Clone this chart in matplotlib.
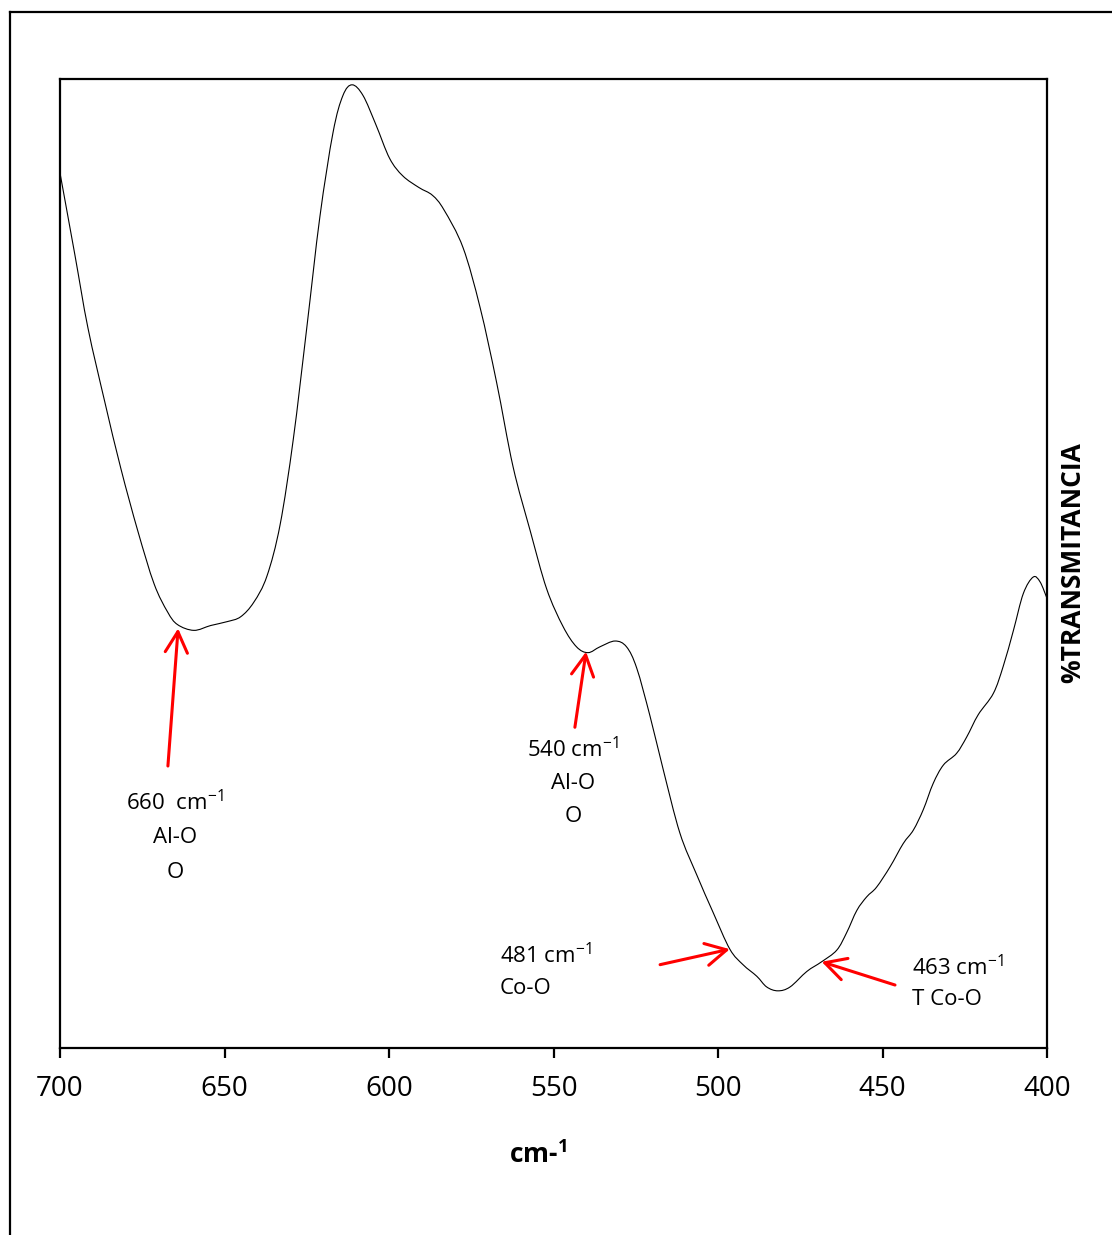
import matplotlib
matplotlib.use("Agg")
import matplotlib.pyplot as plt
from matplotlib.lines import Line2D
from matplotlib.path import Path
from matplotlib.patches import PathPatch

plt.rcParams['font.family'] = ['Open Sans', 'DejaVu Sans']
plt.rcParams['mathtext.fontset'] = 'custom'
plt.rcParams['mathtext.rm'] = 'Open Sans'
plt.rcParams['mathtext.it'] = 'Open Sans:italic'
plt.rcParams['mathtext.bf'] = 'Open Sans:bold'

# FTIR spectrum (wavenumber in cm-1, transmittance in arbitrary %)
wavenumber = [700.0, 695.5, 691.5, 686.4, 681.5, 676.3, 671.4, 667.3, 664.3, 659.3,
              654.2, 649.2, 645.1, 641.1, 637.1, 633.1, 629.1, 625.0, 621.0, 617.0,
              614.0, 611.2, 607.9, 604.0, 599.8, 595.8, 590.9, 586.8, 583.3,
              577.5, 572.3, 567.3, 562.3, 557.1, 552.1, 547.1, 543.0, 539.5, 535.9,
              531.3, 527.8, 524.7, 520.7, 516.7, 511.6, 506.5, 501.5, 496.4, 492.4,
              488.2, 485.2, 481.8, 478.1, 473.0, 468.5, 463.9, 460.9, 457.8, 454.8,
              451.8, 447.7, 443.7, 440.6, 437.6, 434.6, 431.5, 427.5, 424.4, 420.9,
              416.3, 413.3, 410.2, 407.2, 404.2, 402.1, 400.0]
transmittance = [90.3, 81.9, 74.3, 66.7, 59.8, 53.3, 47.9, 45.0, 43.7, 43.1,
                 43.6, 44.0, 44.5, 46.0, 48.7, 54.0, 62.8, 74.3, 85.8, 94.5,
                 98.3, 99.4, 98.3, 95.3, 91.8, 90.0, 88.8, 88.0, 86.5,
                 82.6, 76.4, 68.7, 60.0, 53.4, 47.4, 43.5, 41.4, 40.8, 41.4,
                 42.0, 41.4, 39.2, 34.3, 28.8, 22.2, 17.9, 14.0, 10.2, 8.6,
                 7.4, 6.3, 5.9, 6.3, 7.9, 8.9, 10.1, 11.9, 14.2, 15.6,
                 16.6, 18.7, 21.1, 22.5, 24.6, 27.3, 29.2, 30.4, 32.1, 34.4,
                 36.6, 39.4, 43.1, 46.9, 48.6, 48.1, 46.4]

x_ticks = [700, 650, 600, 550, 500, 450, 400]

# Band assignments
band_labels = [
    [r"660  cm$^{-1}$", "Al-O", "O"],
    [r"540 cm$^{-1}$", "Al-O", "O"],
    [r"481 cm$^{-1}$", "Co-O"],
    [r"463 cm$^{-1}$", "T Co-O"],
]
arrow_tails = [(667.2, 29.1), (543.5, 33.1), (517.6, 8.6), (446.2, 6.5)]
arrow_tips = [(664.1, 43.3), (540.1, 40.9), (496.4, 10.2), (468.5, 8.9)]


def smooth_path(xs, ys):
    """Smoothed-line path through every point (Catmull-Rom as cubic Beziers)."""
    pts = list(zip(xs, ys))
    n = len(pts)
    verts = [pts[0]]
    codes = [Path.MOVETO]
    for i in range(n - 1):
        p0 = pts[i - 1] if i > 0 else pts[i]
        p1 = pts[i]
        p2 = pts[i + 1]
        p3 = pts[i + 2] if i + 2 < n else pts[i + 1]
        c1 = (p1[0] + (p2[0] - p0[0]) / 6, p1[1] + (p2[1] - p0[1]) / 6)
        c2 = (p2[0] - (p3[0] - p1[0]) / 6, p2[1] - (p3[1] - p1[1]) / 6)
        verts += [c1, c2, p2]
        codes += [Path.CURVE4] * 3
    return Path(verts, codes)


W, H = 1112, 1235
fig = plt.figure(figsize=(W / 100, H / 100), dpi=100)
ax = fig.add_axes([60 / W, 1 - 1048 / H, 987 / W, 969 / H])

ax.add_patch(PathPatch(smooth_path(wavenumber, transmittance), fill=False,
                       edgecolor='black', lw=0.8))
ax.set_xlim(700, 400)
ax.set_ylim(0, 100)
ax.set_xticks(x_ticks)
ax.set_xticklabels([str(t) for t in x_ticks])
ax.set_yticks([])
for s in ax.spines.values():
    s.set_linewidth(1.6)
ax.tick_params(axis='x', direction='out', length=7.5, width=1.6, pad=12,
               labelsize=20)

# arrows
for tail, tip in zip(arrow_tails, arrow_tips):
    ax.annotate('', xy=tip, xytext=tail,
                arrowprops=dict(arrowstyle='->,head_length=0.75,head_width=0.4',
                                color='red', lw=2.2, mutation_scale=20,
                                shrinkA=0, shrinkB=0))

fs = 16
for line, y in zip(band_labels[0], [25.3, 21.7, 18.1]):
    ax.text(665.0, y, line, ha='center', va='center', fontsize=fs)
for line, y in zip(band_labels[1], [30.8, 27.3, 23.9]):
    ax.text(544.1, y, line, ha='center', va='center', fontsize=fs)
for line, y in zip(band_labels[2], [9.5, 6.1]):
    ax.text(566.3, y, line, ha='left', va='center', fontsize=fs)
for line, y in zip(band_labels[3], [8.3, 5.0]):
    ax.text(441.0, y, line, ha='left', va='center', fontsize=fs)

# axis titles
fig.text(538 / W, 1 - 1155 / H, r"cm-$^{\mathbf{1}}$", ha='center', va='center',
         fontsize=19, fontweight='bold')
fig.text(1073 / W, 1 - 563 / H, "%TRANSMITANCIA", ha='center', va='center',
         rotation=90, fontsize=19, fontweight='bold')

# outer chart frame
fig.add_artist(Line2D([9.5 / W, 9.5 / W], [0, 1 - 12 / H], transform=fig.transFigure,
                      color='black', lw=1.6))
fig.add_artist(Line2D([9.5 / W, 1], [1 - 12 / H, 1 - 12 / H], transform=fig.transFigure,
                      color='black', lw=1.6))

fig.savefig('out.png', dpi=100)
